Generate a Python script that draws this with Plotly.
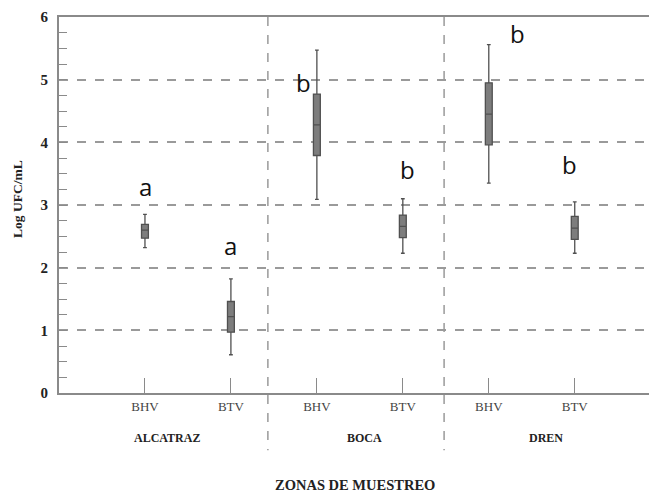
import plotly.graph_objects as go

# ---- data ----
zones = ["ALCATRAZ", "BOCA", "DREN"]
sample_types = ["BHV", "BTV", "BHV", "BTV", "BHV", "BTV"]
positions = [1, 2, 3, 4, 5, 6]
whisker_low = [2.32, 0.61, 3.09, 2.23, 3.35, 2.23]
q1_vals = [2.47, 0.97, 3.79, 2.48, 3.96, 2.45]
median_vals = [2.60, 1.22, 4.28, 2.66, 4.45, 2.63]
q3_vals = [2.69, 1.46, 4.77, 2.84, 4.95, 2.82]
whisker_high = [2.85, 1.82, 5.47, 3.10, 5.56, 3.05]
letters = ["a", "a", "b", "b", "b", "b"]
letter_x = [1.01, 2.0, 2.84, 4.06, 5.33, 5.94]
letter_y = [3.29, 2.35, 4.95, 3.56, 5.73, 3.64]
zone_label_x = [1.26, 3.55, 5.67]
divider_x = [2.43, 4.48]
y_ticks = [0, 1, 2, 3, 4, 5, 6]

SERIF = "Liberation Serif, Times New Roman, serif"
AXIS_COL = "#8a8a8a"
GRID_COL = "#9a9a9a"

fig = go.Figure()
for i in range(len(positions)):
    fig.add_trace(go.Box(
        x=[positions[i]],
        q1=[q1_vals[i]], median=[median_vals[i]], q3=[q3_vals[i]],
        lowerfence=[whisker_low[i]], upperfence=[whisker_high[i]],
        width=0.08, whiskerwidth=0.55,
        fillcolor="#7d7d7d",
        line=dict(color="#505050", width=1.3),
        showlegend=False, hoverinfo="skip",
    ))

annotations = []
for lx, ly, t in zip(letter_x, letter_y, letters):
    annotations.append(dict(x=lx, y=ly, xref="x", yref="y", text=t, showarrow=False,
                            font=dict(family="Open Sans, sans-serif", size=24, color="#111")))
for zx, z in zip(zone_label_x, zones):
    annotations.append(dict(x=zx, y=0, xref="x", yref="paper", yshift=-45, text="<b>%s</b>" % z,
                            xanchor="center", yanchor="middle",
                            showarrow=False, font=dict(family=SERIF, size=12, color="#222")))
annotations.append(dict(x=3.44, y=0, xref="x", yref="paper", yshift=-92,
                        xanchor="center", yanchor="middle",
                        text="<b>ZONAS DE MUESTREO</b>", showarrow=False,
                        font=dict(family=SERIF, size=14.5, color="#222")))
annotations.append(dict(x=0, y=0.516, xref="paper", yref="paper", xshift=-41, textangle=-90,
                        xanchor="center", yanchor="middle",
                        text="<b>Log UFC/mL</b>", showarrow=False,
                        font=dict(family=SERIF, size=13.5, color="#222")))

shapes = []
for dx in divider_x:
    shapes.append(dict(type="line", xref="x", yref="paper", x0=dx, x1=dx, y0=1, y1=-0.152,
                       line=dict(color=GRID_COL, width=1.5, dash="dash")))

fig.update_layout(
    width=657, height=494,
    margin=dict(l=51, r=0, t=9, b=109),
    paper_bgcolor="white", plot_bgcolor="white",
    annotations=annotations, shapes=shapes,
    xaxis=dict(range=[0, 7.05], tickvals=positions, ticktext=sample_types,
               ticks="inside", ticklen=15, tickcolor=AXIS_COL, tickwidth=1.2,
               showline=True, linecolor=AXIS_COL, linewidth=2, mirror=True,
               showgrid=False, zeroline=False,
               tickfont=dict(family=SERIF, size=13, color="#444")),
    yaxis=dict(range=[0, 6], tickvals=y_ticks,
               ticks="inside", ticklen=8, tickcolor=AXIS_COL,
               minor=dict(dtick=0.25, ticks="inside", ticklen=8, tickcolor=AXIS_COL, showgrid=False),
               showline=True, linecolor=AXIS_COL, linewidth=2,
               showgrid=True, gridcolor=GRID_COL, griddash="dash", gridwidth=1.5,
               zeroline=False, ticklabelstandoff=6,
               tickfont=dict(family=SERIF, size=15, color="#222", weight="bold")),
)

fig.write_html("out.html")
